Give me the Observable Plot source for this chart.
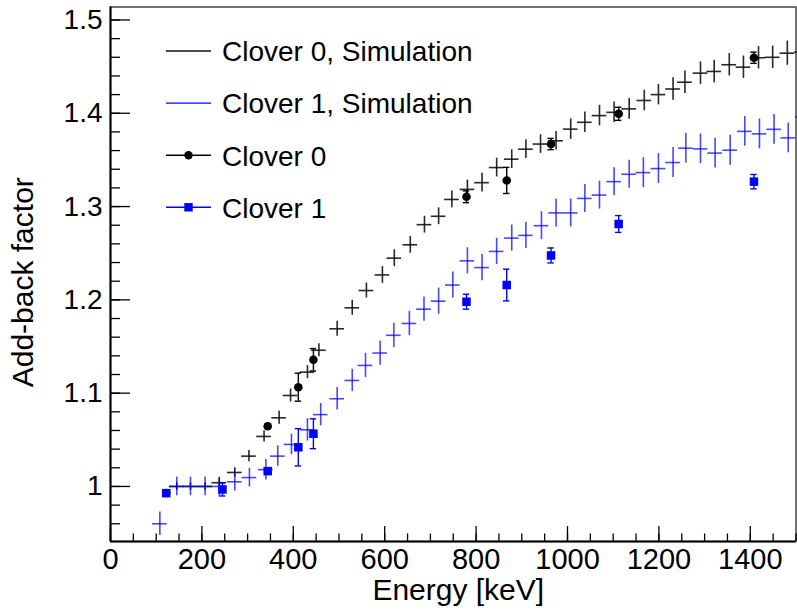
<!DOCTYPE html>
<html><head><meta charset="utf-8">
<script src="https://cdn.jsdelivr.net/npm/d3@7"></script>
<script src="https://cdn.jsdelivr.net/npm/@observablehq/plot@0.6"></script>
<style>
body{margin:0;background:#fff;}
#chart svg{display:block;font-family:"Liberation Sans",Arial,Helvetica,sans-serif;}
</style></head><body><div id="chart"></div>
<script>
// Clover 0, Simulation
const sim0Energy = [145,175,207,238,272,303,336,369,394,431,456,496,529,560,595,621,656,687,718,747,781,813,845,878,909,941,975,1007,1038,1070,1102,1135,1168,1199,1231,1257,1291,1321,1354,1385,1418,1449,1481,1513];
const sim0Factor = [1.000,1.000,1.000,1.004,1.015,1.0325,1.0536,1.0736,1.0975,1.1225,1.146,1.169,1.1915,1.210,1.2267,1.2447,1.259,1.2806,1.2896,1.3076,1.3184,1.3256,1.3418,1.3508,1.3615,1.367,1.3705,1.383,1.3903,1.3975,1.401,1.4047,1.4137,1.420,1.426,1.4333,1.443,1.4448,1.452,1.4494,1.4595,1.460,1.4644,1.4655];
const sim0Err = [0.004,0.004,0.004,0.005,0.005,0.006,0.006,0.007,0.007,0.007,0.007,0.008,0.008,0.008,0.009,0.009,0.009,0.009,0.009,0.009,0.010,0.010,0.010,0.010,0.010,0.010,0.010,0.011,0.011,0.011,0.011,0.011,0.011,0.011,0.012,0.012,0.012,0.012,0.012,0.012,0.012,0.012,0.013,0.013];

// Clover 1, Simulation
const sim1Energy = [108,145,175,207,238,272,304,340,366,396,431,460,496,529,558,590,620,654,686,718,749,781,813,845,878,909,943,975,1007,1038,1070,1102,1135,1166,1199,1231,1259,1291,1323,1356,1388,1420,1452,1483,1515];
const sim1Factor = [0.960,1.000,1.000,1.000,1.000,1.005,1.0095,1.018,1.0325,1.045,1.0607,1.077,1.094,1.1136,1.1297,1.143,1.162,1.1747,1.190,1.1986,1.2159,1.2418,1.2346,1.2519,1.2662,1.2691,1.2795,1.2932,1.2932,1.3087,1.3123,1.3267,1.3346,1.3364,1.3407,1.3472,1.3626,1.3618,1.3573,1.3604,1.3806,1.3779,1.3828,1.3736,1.396];
const sim1Err = [0.0125,0.010,0.010,0.010,0.010,0.010,0.010,0.011,0.011,0.011,0.012,0.012,0.012,0.012,0.013,0.013,0.013,0.013,0.013,0.014,0.014,0.014,0.014,0.014,0.014,0.014,0.015,0.015,0.015,0.015,0.015,0.015,0.015,0.016,0.016,0.016,0.016,0.016,0.016,0.016,0.016,0.016,0.016,0.016,0.016];

// Clover 0 (measured)
const data0Energy = [122,344,411,444,779,867,964,1112,1408];
const data0Factor = [0.993,1.0646,1.1064,1.1358,1.3105,1.328,1.367,1.3994,1.4595];
const data0Err = [0.003,0.002,0.015,0.012,0.0063,0.014,0.006,0.007,0.006];

// Clover 1 (measured)
const data1Energy = [122,245,344,411,444,779,867,964,1112,1408];
const data1Factor = [0.9928,0.9968,1.0164,1.042,1.0565,1.198,1.2159,1.2476,1.2813,1.3267];
const data1Err = [0.003,0.007,0.002,0.020,0.016,0.008,0.017,0.008,0.009,0.0077];

const simHalfBin = 16;   // keV, horizontal bar of simulation points
const capHalf = 7;       // keV, error-bar caps

const xMajorTicks = [0,200,400,600,800,1000,1200,1400];
const xMinorTicks = d3.range(0, 31).map(i => i * 50);
const yMajorTicks = [1,1.1,1.2,1.3,1.4,1.5];
const yMajorLabels = ["1","1.1","1.2","1.3","1.4","1.5"];
const yMinorTicks = d3.range(48, 76).map(i => i / 50);
const xDomain = [0, 1500];
const yDomain = [0.941, 1.5139];

const legendLabels = ["Clover 0, Simulation","Clover 1, Simulation","Clover 0","Clover 1"];
const legendColors = ["#111","#0000ff","#000","#0000ff"];
const legendMarkers = [null,null,"circle","square"];

const rows = (E, V, S) => E.map((e, i) => ({e, v: V[i], err: S[i]}));
const sim0 = rows(sim0Energy, sim0Factor, sim0Err);
const sim1 = rows(sim1Energy, sim1Factor, sim1Err);
const d0 = rows(data0Energy, data0Factor, data0Err);
const d1 = rows(data1Energy, data1Factor, data1Err);

const simMarks = (r, color, op) => [
  Plot.ruleY(r, {y: "v", x1: d => d.e - simHalfBin, x2: d => d.e + simHalfBin, stroke: color, strokeWidth: 1.6, strokeOpacity: op}),
  Plot.ruleX(r, {x: "e", y1: d => d.v - d.err, y2: d => d.v + d.err, stroke: color, strokeWidth: 1.6, strokeOpacity: op})
];
const errMarks = (r, color) => [
  Plot.ruleX(r, {x: "e", y1: d => d.v - d.err, y2: d => d.v + d.err, stroke: color, strokeWidth: 1.4}),
  Plot.ruleY(r, {y: d => d.v + d.err, x1: d => d.e - capHalf, x2: d => d.e + capHalf, stroke: color, strokeWidth: 1.4}),
  Plot.ruleY(r, {y: d => d.v - d.err, x1: d => d.e - capHalf, x2: d => d.e + capHalf, stroke: color, strokeWidth: 1.4})
];

const plot = Plot.plot({
  width: 797, height: 610,
  marginLeft: 110, marginRight: 1.5, marginTop: 6.5, marginBottom: 69,
  x: {domain: xDomain},
  y: {domain: yDomain},
  style: {fontFamily: '"Liberation Sans", Arial, Helvetica, sans-serif', color: "#000", background: "#fff"},
  marks: [
    Plot.frame({stroke: "#444", strokeWidth: 1.5}),
    ...simMarks(sim0, "#111", 0.9),
    ...simMarks(sim1, "#0000ff", 0.72),
    ...errMarks(d0, "#000"),
    Plot.dot(d0, {x: "e", y: "v", r: 4.3, fill: "#000"}),
    ...errMarks(d1, "#0000ff"),
    Plot.dot(d1, {x: "e", y: "v", r: 4.8, symbol: "square", fill: "#0000ff"}),
    Plot.ruleX([xDomain[0]], {stroke: "#000", strokeWidth: 2}),
    Plot.ruleY([yDomain[0]], {stroke: "#000", strokeWidth: 2}),
    Plot.axisX(xMinorTicks, {tickSize: -7.5, tickFormat: () => "", label: null, strokeWidth: 1.3}),
    Plot.axisX(xMajorTicks, {tickSize: -15, tickPadding: 22, fontSize: 29, tickFormat: d => String(d), label: null, strokeWidth: 1.3}),
    Plot.axisY(yMinorTicks, {tickSize: -10, tickFormat: () => "", label: null, strokeWidth: 1.3}),
    Plot.axisY(yMajorTicks, {tickSize: -20, tickPadding: 28, fontSize: 28, tickFormat: d => yMajorLabels[yMajorTicks.indexOf(d)], label: null, strokeWidth: 1.3}),
    Plot.text(["Energy [keV]"], {frameAnchor: "bottom", text: d => d, lineAnchor: "middle", textAnchor: "middle", dx: 5, dy: 48.4, fontSize: 30, fill: "#000"}),
    Plot.text(["Add-back factor"], {frameAnchor: "left", text: d => d, rotate: -90, lineAnchor: "middle", textAnchor: "middle", dx: -87, dy: 8, fontSize: 30, fill: "#000"})
  ]
});

// Legend (ROOT TLegend style, no border)
const svg = d3.select(plot);
const leg = svg.append("g")
  .attr("font-family", '"Liberation Sans", Arial, Helvetica, sans-serif')
  .attr("text-anchor", "start");
legendLabels.forEach((lab, i) => {
  const y = 51 + i * 52.1;
  leg.append("line").attr("x1", 166).attr("x2", 211).attr("y1", y).attr("y2", y)
    .attr("stroke", legendColors[i]).attr("stroke-width", 1.4);
  if (legendMarkers[i] === "circle") {
    leg.append("circle").attr("cx", 188.5).attr("cy", y).attr("r", 4.2).attr("fill", legendColors[i]);
  } else if (legendMarkers[i] === "square") {
    leg.append("rect").attr("x", 188.5 - 4.2).attr("y", y - 4.2).attr("width", 8.4).attr("height", 8.4).attr("fill", legendColors[i]);
  }
  leg.append("text").attr("x", 222).attr("y", y + 10.3).attr("font-size", 28)
    .attr("text-anchor", "start").attr("fill", "#000").text(lab);
});

document.getElementById("chart").appendChild(plot);
</script>
</body></html>
